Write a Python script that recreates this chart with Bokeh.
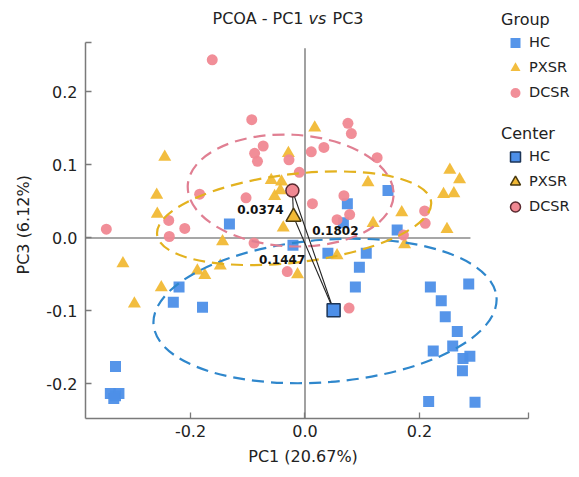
from bokeh.plotting import figure
from bokeh.models import (Range1d, FixedTicker, CustomJSTickFormatter, Legend,
                          LegendItem, Label, ColumnDataSource)
from bokeh.core.properties import value
from bokeh.embed import file_html
from bokeh.resources import INLINE

# ---------------- data ----------------
groups = ["HC", "PXSR", "DCSR"]

hc_x = [-0.132, 0.145, 0.074, 0.067, 0.161, -0.021, 0.040, 0.107, 0.095, 0.088,
        -0.220, -0.230, -0.179, 0.219, 0.286, 0.238, 0.245, 0.266, 0.258, 0.224,
        0.276, 0.288, 0.275, 0.216, 0.297, -0.331, -0.340, -0.331, -0.325, -0.334]
hc_y = [0.019, 0.065, 0.047, 0.021, 0.011, -0.010, -0.021, -0.021, -0.040, -0.067,
        -0.067, -0.088, -0.095, -0.067, -0.063, -0.086, -0.108, -0.128, -0.148, -0.155,
        -0.165, -0.162, -0.182, -0.224, -0.225, -0.176, -0.213, -0.216, -0.213, -0.220]

pxsr_x = [-0.245, -0.259, -0.258, -0.059, -0.041, -0.043, -0.053, -0.038, -0.029, 0.017,
          0.110, 0.169, 0.119, 0.174, 0.248, 0.253, 0.270, 0.242, 0.260, -0.144,
          -0.148, -0.175, -0.188, -0.318, -0.251, -0.298, -0.013, 0.056]
pxsr_y = [0.111, 0.059, 0.033, 0.079, 0.077, 0.065, 0.057, 0.014, 0.116, 0.151,
          0.076, 0.035, 0.020, -0.009, 0.012, 0.093, 0.080, 0.060, 0.061, -0.005,
          -0.038, -0.051, -0.045, -0.035, -0.068, -0.090, -0.050, -0.024]

dcsr_x = [-0.162, -0.093, -0.073, -0.088, -0.083, -0.184, -0.103, -0.238, -0.210, -0.347,
          -0.237, 0.075, 0.081, 0.011, 0.033, -0.028, 0.126, -0.010, 0.068, 0.013,
          0.078, 0.056, 0.209, 0.210, 0.172, -0.089, -0.031, 0.077]
dcsr_y = [0.244, 0.162, 0.126, 0.116, 0.105, 0.060, 0.055, 0.024, 0.013, 0.012,
          0.002, 0.157, 0.143, 0.118, 0.124, 0.107, 0.110, 0.090, 0.058, 0.047,
          0.032, 0.025, 0.037, 0.020, 0.004, -0.007, -0.046, -0.096]

# group centres (HC, PXSR, DCSR)
center_x = [0.050, -0.020, -0.022]
center_y = [-0.099, 0.029, 0.065]

# confidence ellipses (HC, PXSR, DCSR)
ellipse_x = [0.035, -0.019, -0.025]
ellipse_y = [-0.100, 0.027, 0.065]
ellipse_w = [0.601, 0.482, 0.360]
ellipse_h = [0.195, 0.121, 0.153]
ellipse_angle = [0.08, 0.12, -0.05]

# distances between centres
dist_from = ["DCSR", "DCSR", "PXSR"]
dist_to = ["PXSR", "HC", "HC"]
dist_text = ["0.0374", "0.1802", "0.1447"]
dist_label_x = [-0.078, 0.053, -0.040]
dist_label_y = [0.039, 0.0096, -0.030]

# axis extents and ticks
x_axis_span = [-0.3834, 0.3904]
y_axis_span = [-0.2473, 0.2678]
x_ticks = [-0.2, 0.0, 0.2]
y_ticks = [-0.2, -0.1, 0.0, 0.1, 0.2]

title_parts = ["PCOA - PC1", "vs", "PC3"]
x_title = "PC1 (20.67%)"
y_title = "PC3 (6.12%)"

# ---------------- style ----------------
FONT = "DejaVu Sans"
TXT = "#222222"
NBSP = "\u00a0"
fill_cols = {"HC": "#4d8fe8", "PXSR": "#f1b935", "DCSR": "#f08892"}
ell_cols = {"HC": "#2f87cc", "PXSR": "#e3b21f", "DCSR": "#e07f92"}
edge_cols = {"HC": "#1c3557", "PXSR": "#4a3a10", "DCSR": "#5a2a30"}
markers = {"HC": "square", "PXSR": "triangle", "DCSR": "circle"}
sizes = {"HC": 11, "PXSR": 13, "DCSR": 11}

W, H = 571, 469
LEFT, BOTTOM = 85, 418
PX_PER_X, PX_PER_Y = 572.5, 730.0
x_end = x_axis_span[0] + (W - LEFT) / PX_PER_X
y_end = y_axis_span[0] + BOTTOM / PX_PER_Y

p = figure(width=W, height=H, output_backend="svg", toolbar_location=None,
           x_range=Range1d(x_axis_span[0], x_end),
           y_range=Range1d(y_axis_span[0], y_end),
           min_border_left=LEFT, min_border_right=0, min_border_top=0,
           min_border_bottom=H - BOTTOM)
p.outline_line_color = None
p.xgrid.visible = False
p.ygrid.visible = False
p.background_fill_color = "white"

# zero lines
p.line(x=[0, 0], y=[y_axis_span[0], 0.260], line_color="#8a8a8a", line_width=1.6)
p.line(x=[x_axis_span[0], 0.289], y=[0, 0], line_color="#8a8a8a", line_width=1.6)

pts = {"HC": (hc_x, hc_y), "PXSR": (pxsr_x, pxsr_y), "DCSR": (dcsr_x, dcsr_y)}
grp_r = {}
for g in groups:
    xs, ys = pts[g]
    grp_r[g] = p.scatter(x=xs, y=ys, marker=markers[g], size=sizes[g],
                         fill_color=fill_cols[g], line_color=None, fill_alpha=0.95)

for i, g in enumerate(groups):
    p.ellipse(x=[ellipse_x[i]], y=[ellipse_y[i]], width=[ellipse_w[i]],
              height=[ellipse_h[i]], angle=[ellipse_angle[i]], fill_color=None,
              line_color=ell_cols[g], line_width=2.2, line_dash="12 7")

# lines between centres
for a, b in zip(dist_from, dist_to):
    ia, ib = groups.index(a), groups.index(b)
    p.line(x=[center_x[ia], center_x[ib]], y=[center_y[ia], center_y[ib]],
           line_color="#222222", line_width=1.1)

cen_r = {}
for i, g in enumerate(groups):
    cen_r[g] = p.scatter(x=[center_x[i]], y=[center_y[i]], marker=markers[g],
                         size=sizes[g] + 2, fill_color=fill_cols[g],
                         line_color=edge_cols[g], line_width=1.5)

src = ColumnDataSource(dict(x=dist_label_x, y=dist_label_y, t=dist_text))
p.text(x="x", y="y", text="t", source=src, text_font=value(FONT),
       text_font_size="12px", text_font_style="bold", text_color="#111111",
       text_align="center", text_baseline="middle")

# axes
fmt = CustomJSTickFormatter(code="return (Math.abs(tick) > 0.25) ? '' : tick.toFixed(1);")
for ax in (p.xaxis[0], p.yaxis[0]):
    ax.axis_line_color = "#7a7a7a"
    ax.axis_line_width = 1.5
    ax.major_tick_line_color = "#7a7a7a"
    ax.major_tick_line_width = 1.3
    ax.major_tick_in = 6
    ax.major_tick_out = 0
    ax.minor_tick_line_color = None
    ax.major_label_text_font = FONT
    ax.major_label_text_font_size = "16px"
    ax.major_label_text_color = TXT
    ax.axis_label_text_font = FONT
    ax.axis_label_text_font_size = "16px"
    ax.axis_label_text_font_style = "normal"
    ax.axis_label_text_color = TXT
    ax.formatter = fmt

p.xaxis[0].bounds = (x_axis_span[0], x_axis_span[1])
p.yaxis[0].bounds = (y_axis_span[0], y_axis_span[1])
p.xaxis[0].ticker = FixedTicker(ticks=x_ticks + [x_axis_span[1]])
p.yaxis[0].ticker = FixedTicker(ticks=y_ticks + [y_axis_span[1]])
# trailing no-break spaces centre the titles on the drawn axes, not the whole frame
p.xaxis[0].axis_label = x_title + NBSP * 10
p.yaxis[0].axis_label = y_title + NBSP * 6
p.xaxis[0].major_label_standoff = 6
p.xaxis[0].axis_label_standoff = 7
p.yaxis[0].major_label_standoff = 8
p.yaxis[0].axis_label_standoff = 10

# title with italic "vs" (screen units, relative to the frame)
tx0, ty = 127, BOTTOM - 18
p.add_layout(Label(x=tx0, y=ty, x_units="screen", y_units="screen",
                   text=title_parts[0], text_font=FONT, text_font_size="16px",
                   text_color=TXT, text_baseline="middle"))
p.add_layout(Label(x=tx0 + 96, y=ty, x_units="screen", y_units="screen",
                   text=title_parts[1], text_font=FONT, text_font_size="16px",
                   text_font_style="italic", text_color=TXT, text_baseline="middle"))
p.add_layout(Label(x=tx0 + 120, y=ty, x_units="screen", y_units="screen",
                   text=title_parts[2], text_font=FONT, text_font_size="16px",
                   text_color=TXT, text_baseline="middle"))

def make_legend(title, rmap, loc):
    lg = Legend(items=[LegendItem(label=g, renderers=[rmap[g]]) for g in groups],
                title=title, location=loc, orientation="vertical")
    lg.title_text_font = FONT
    lg.title_text_font_size = "16px"
    lg.title_text_font_style = "normal"
    lg.title_text_color = TXT
    lg.title_standoff = 1
    lg.label_text_font = FONT
    lg.label_text_font_size = "14.5px"
    lg.label_text_color = TXT
    lg.glyph_width = 28
    lg.glyph_height = 25
    lg.label_height = 25
    lg.label_standoff = 0
    lg.spacing = 0
    lg.padding = 0
    lg.margin = 0
    lg.border_line_color = None
    lg.background_fill_alpha = 0
    return lg

p.add_layout(make_legend("Group", grp_r, (416, 313.5)))
p.add_layout(make_legend("Center", cen_r, (416, 199.5)))

open("out.html", "w").write(file_html(p, INLINE))
